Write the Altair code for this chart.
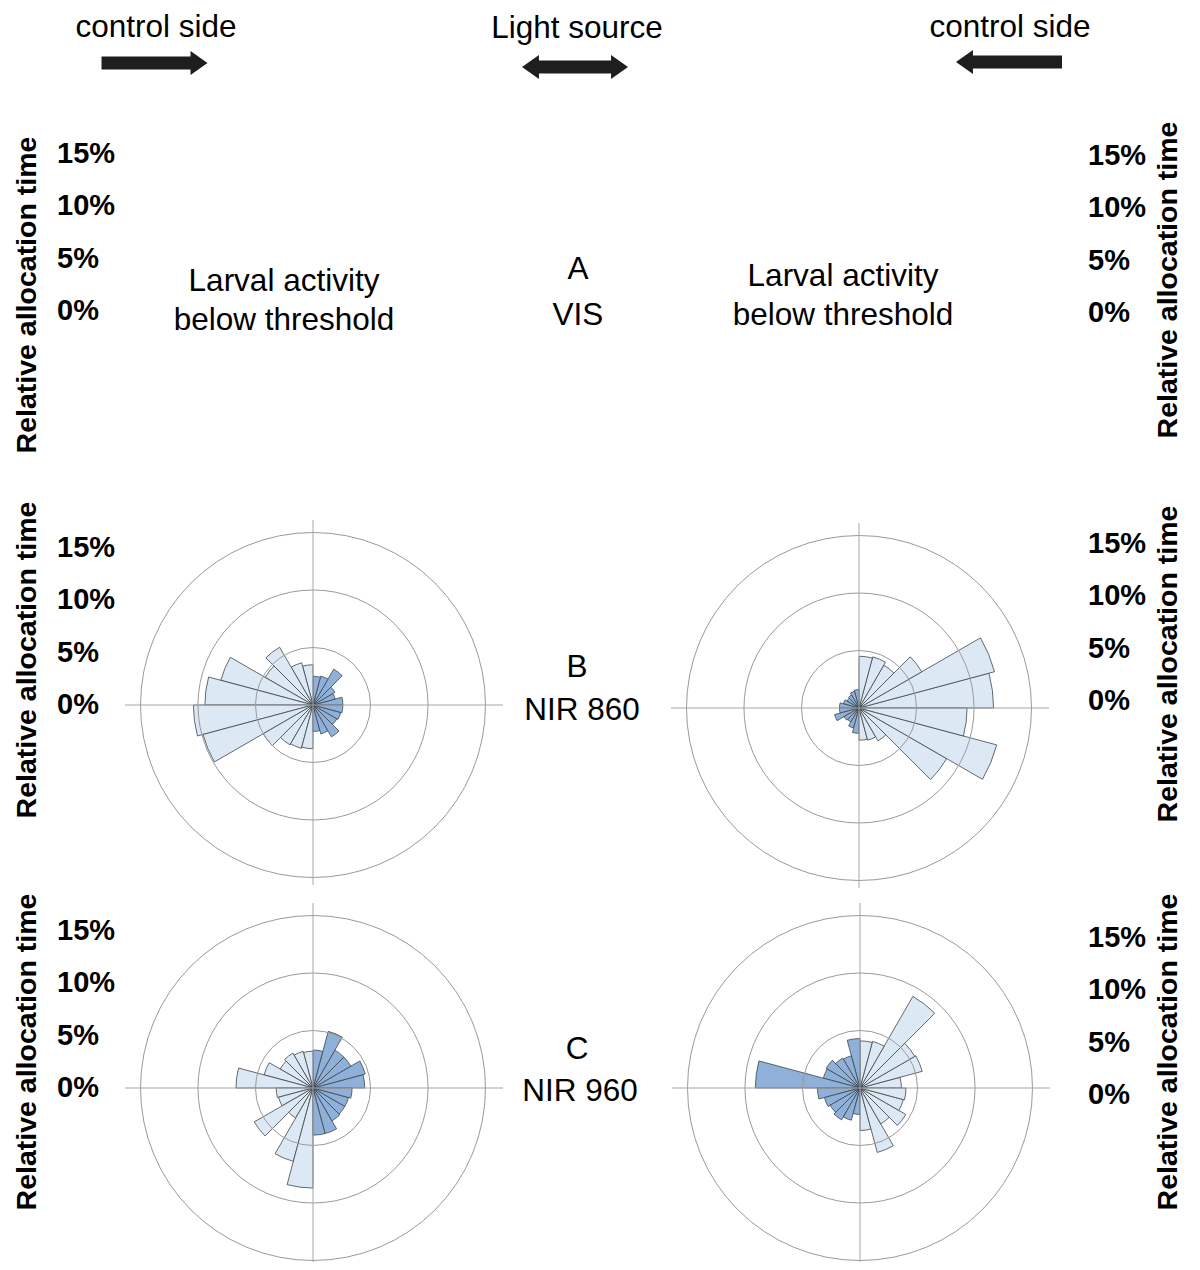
import math
import altair as alt
import pandas as pd

# ---------------- data ----------------
# 24 angular bins of 15 degrees; bin i starts at math angle 15*i (counter-clockwise from east)
bin_start_deg = list(range(0, 360, 15))

# relative allocation time (%) per bin
nir860_left = [2.6, 2.0, 2.2, 3.6, 2.6, 2.5, 3.5, 3.8, 5.8, 4.8, 8.3, 9.4,
               10.4, 9.9, 5.0, 4.0, 3.9, 3.8, 2.3, 2.6, 3.2, 2.4, 2.5, 2.6]
nir860_right = [11.7, 12.2, 6.3, 4.3, 4.6, 4.5, 1.6, 1.5, 1.3, 1.2, 1.4, 1.7,
                1.7, 2.2, 1.5, 1.4, 1.8, 2.2, 2.8, 2.9, 3.3, 8.8, 12.4, 9.4]
nir960_left = [4.5, 4.7, 3.8, 3.8, 5.1, 3.3, 3.2, 3.3, 3.5, 3.3, 4.4, 6.7,
               3.2, 3.1, 5.9, 3.0, 6.6, 8.7, 4.1, 4.1, 3.3, 3.2, 3.2, 3.4]
nir960_right = [3.6, 5.6, 5.5, 9.2, 4.2, 4.1, 4.3, 2.9, 3.0, 3.4, 3.3, 9.1,
                3.7, 3.2, 3.0, 3.2, 2.9, 2.3, 3.7, 5.8, 3.6, 4.6, 3.9, 4.0]

tick_values = [0, 5, 10, 15]
tick_labels = ["0%", "5%", "10%", "15%"]
ring_values = [5, 10, 15]

# ---------------- styling / layout ----------------
FONT = "Liberation Sans"
LIGHT = "#dce9f5"
DARK = "#8fb0d8"
WEDGE_STROKE = "#3f454b"
GRID = "#9a9a9a"
AXIS_LINE = "#a5a5a5"

W, H = 1184, 1254
PX_PER_PCT = 11.5            # rose radial scale (5 % = 57.5 px)
PX_PER_TICK = 10.5           # spacing of the % labels beside the roses

rscale = alt.Scale(type="linear", domain=[0, 15], range=[0, 15 * PX_PER_PCT], zero=True)
theta_scale = alt.Scale(domain=[0, 360], range=[0, 2 * math.pi])
side_scale = alt.Scale(domain=["light", "dark"], range=[LIGHT, DARK])


def rose_table(values, light_on_left):
    rows = []
    for a0, v in zip(bin_start_deg, values):
        t0 = (90 - (a0 + 15)) % 360          # vega theta: clockwise from north
        is_left = 90 <= a0 < 270
        rows.append({"t0": t0, "t1": t0 + 15, "value": v,
                     "side": "light" if is_left == light_on_left else "dark"})
    return pd.DataFrame(rows)


def rose(values, light_on_left, cx, cy, ext):
    left, right, up, down = ext
    cross_h = alt.Chart(pd.DataFrame({"k": [0]})).mark_rule(
        color=AXIS_LINE, strokeWidth=1
    ).encode(x=alt.value(cx - left), x2=alt.value(cx + right), y=alt.value(cy))
    cross_v = alt.Chart(pd.DataFrame({"k": [0]})).mark_rule(
        color=AXIS_LINE, strokeWidth=1
    ).encode(y=alt.value(cy - up), y2=alt.value(cy + down), x=alt.value(cx))
    wedges = alt.Chart(rose_table(values, light_on_left)).mark_arc(
        stroke=WEDGE_STROKE, strokeWidth=0.8
    ).encode(
        x=alt.value(cx), y=alt.value(cy),
        theta=alt.Theta("t0:Q", stack=False, scale=theta_scale),
        theta2="t1:Q",
        radius=alt.Radius("value:Q", scale=rscale),
        color=alt.Color("side:N", scale=side_scale, legend=None),
    )
    rings = alt.Chart(pd.DataFrame({"r": ring_values, "a0": [0] * 3, "a1": [360] * 3})).mark_arc(
        fillOpacity=0, stroke=GRID, strokeWidth=1
    ).encode(
        x=alt.value(cx), y=alt.value(cy),
        theta=alt.Theta("a0:Q", stack=False, scale=theta_scale),
        theta2="a1:Q",
        radius=alt.Radius("r:Q", scale=rscale),
    )
    return [wedges, rings, cross_h, cross_v]


def text(s, x, y, size=31.5, bold=False, angle=0, align="center", baseline="alphabetic"):
    kw = dict(align=align, baseline=baseline, font=FONT, fontSize=size, color="black")
    if bold:
        kw["fontWeight"] = "bold"
    if angle:
        kw["angle"] = angle
    return alt.Chart(pd.DataFrame({"t": [s]})).mark_text(**kw).encode(
        x=alt.value(x), y=alt.value(y), text="t:N"
    )


def ticks(x, zero_px):
    lo = (zero_px - H) / PX_PER_TICK
    hi = zero_px / PX_PER_TICK
    return alt.Chart(pd.DataFrame({"v": tick_values, "lab": tick_labels})).mark_text(
        align="left", baseline="middle", font=FONT, fontSize=29,
        fontWeight="bold", color="black"
    ).encode(
        x=alt.value(x),
        y=alt.Y("v:Q", scale=alt.Scale(domain=[lo, hi], nice=False, zero=False), axis=None),
        text="lab:N",
    )


def ytitle(x, y):
    return text("Relative allocation time", x, y, size=28.5, bold=True,
                angle=270, baseline="middle")


ARROW_R = "M-1,-0.123 L0.68,-0.123 L0.68,-0.225 L1,0 L0.68,0.225 L0.68,0.123 L-1,0.123 Z"
ARROW_L = "M1,-0.123 L-0.68,-0.123 L-0.68,-0.225 L-1,0 L-0.68,0.225 L-0.68,0.123 L1,0.123 Z"
ARROW_B = ("M-1,0 L-0.68,-0.225 L-0.68,-0.123 L0.68,-0.123 L0.68,-0.225 L1,0 "
           "L0.68,0.225 L0.68,0.123 L-0.68,0.123 L-0.68,0.225 Z")


def arrow(path, x, y):
    return alt.Chart(pd.DataFrame({"a": [0]})).mark_point(
        shape=path, filled=True, size=11236, color="#1e1e1e", opacity=1, strokeWidth=0
    ).encode(x=alt.value(x), y=alt.value(y))


layers = []
# header
layers += [
    text("control side", 148, 29),
    text("Light source", 569, 30),
    text("control side", 1002, 29),
    arrow(ARROW_R, 146.5, 55),
    arrow(ARROW_B, 567, 59),
    arrow(ARROW_L, 1001, 54),
]
# row A (VIS)
layers += [
    ytitle(19, 287), ticks(49, 303),
    text("Larval activity", 276, 283), text("below threshold", 276, 322),
    text("A", 570, 271), text("VIS", 570, 317),
    text("Larval activity", 835, 278), text("below threshold", 835, 317),
    ticks(1080, 305), ytitle(1160, 272),
]
# row B (NIR 860)
layers += rose(nir860_left, True, 305, 697, (188, 190, 185, 180))
layers += rose(nir860_right, False, 851, 700, (188, 190, 185, 180))
layers += [
    ytitle(19, 652), ticks(49, 697),
    text("B", 569, 669), text("NIR 860", 574, 712),
    ticks(1080, 693), ytitle(1160, 656),
]
# row C (NIR 960)
layers += rose(nir960_left, True, 305, 1080, (188, 190, 185, 174))
layers += rose(nir960_right, False, 852, 1080, (188, 190, 185, 174))
layers += [
    ytitle(19, 1044), ticks(49, 1080),
    text("C", 569, 1051), text("NIR 960", 572, 1093),
    ticks(1080, 1087), ytitle(1160, 1044),
]

chart = alt.layer(*layers).resolve_scale(y="independent").properties(
    width=W, height=H, padding=0
).configure_view(strokeWidth=0)

chart.save("out.html", embed_options={"renderer": "svg", "actions": False})
